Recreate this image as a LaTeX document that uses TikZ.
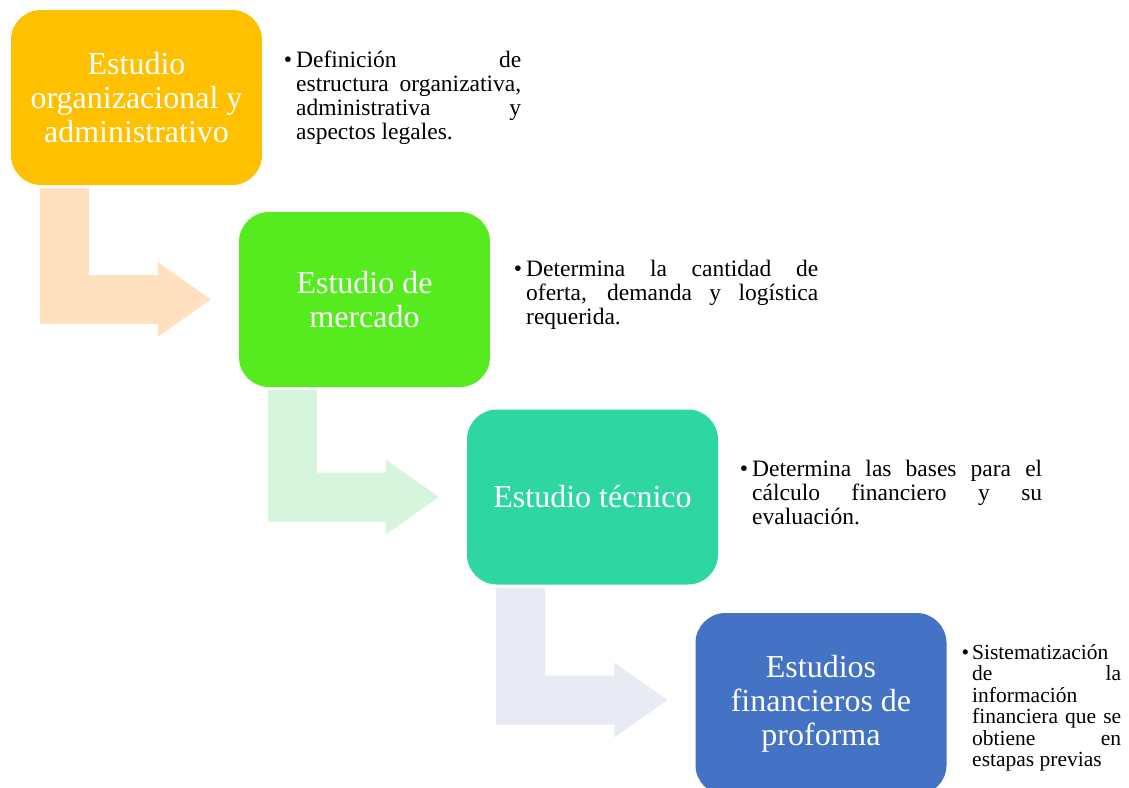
\documentclass[tikz,border=0pt]{standalone}
\usepackage{fontspec}
\setmainfont{Liberation Serif}
\usetikzlibrary{calc}
\definecolor{cA}{HTML}{FFC000}
\definecolor{cB}{HTML}{56EB1E}
\definecolor{cC}{HTML}{2ED6A2}
\definecolor{cD}{HTML}{4472C4}
\definecolor{aA}{HTML}{FFE1C0}
\definecolor{aB}{HTML}{D5F6DC}
\definecolor{aC}{HTML}{E8EAF4}
\tikzset{
  stage/.style={rounded corners=30pt, minimum width=251pt, minimum height=175pt,
    inner sep=0pt, text=white, align=center, font=\fontsize{32}{34}\selectfont},
  desc/.style={anchor=base west, inner sep=0pt, align=justify,
    font=\fontsize{23.5}{24.3}\selectfont},
  descsmall/.style={desc, font=\fontsize{21.5}{21.5}\selectfont},
}
\newcommand\bentarrow[4][0]{%
  \coordinate (W) at ($(#3.west)+(0,#1)$);
  \coordinate (A) at ($(#2.south west)+(29,3)$);
  \coordinate (B) at ($(A)+(49,0)$);
  \coordinate (T) at ($(W)+(0,-24.5)$);
  \coordinate (U) at ($(W)+(0,24.5)$);
  \fill[#4] (A) -- (B) -- (B |- T) -- ($(W)+(-81,-24.5)$)
    -- ($(W)+(-81,-37.5)$) -- ($(W)+(-28,0)$)
    -- ($(W)+(-81,37.5)$) -- ($(W)+(-81,24.5)$)
    -- (A |- U) -- cycle;
}
\newcommand\bul[1]{\llap{\textbullet\hspace{#1}}}
\begin{document}
\begin{tikzpicture}[x=1pt,y=-1pt]
\useasboundingbox (0,0) rectangle (1129,787);
\node[stage, fill=cA] (s1) at (136.5,97.5) {Estudio\\organizacional y\\administrativo};
\node[stage, fill=cB] (s2) at (364.5,299.5) {Estudio de\\mercado};
\node[stage, fill=cC] (s3) at (592.5,497) {Estudio técnico};
\node[stage, fill=cD, minimum height=182pt] (s4) at (821,704) {Estudios\\financieros de\\proforma};
\bentarrow{s1}{s2}{aA}
\bentarrow{s2}{s3}{aB}
\bentarrow[-4]{s3}{s4}{aC}
\node[desc, text width=225pt] (d1) at (296,67) {\bul{4pt}Definición de\linebreak estructura organizativa,\linebreak administrativa y\linebreak aspectos legales.};
\node[desc, text width=292pt] (d2) at (526,276) {\bul{4pt}Determina la cantidad de\linebreak oferta, demanda y logística\linebreak requerida.};
\node[desc, text width=290pt] (d3) at (752,476) {\bul{4pt}Determina las bases para el\linebreak cálculo financiero y su\linebreak evaluación.};
\node[descsmall, text width=149pt] (d4) at (972,659) {\bul{3pt}Sistematización\linebreak de la\linebreak información\linebreak financiera que se\linebreak obtiene en\linebreak estapas previas};
\end{tikzpicture}
\end{document}
